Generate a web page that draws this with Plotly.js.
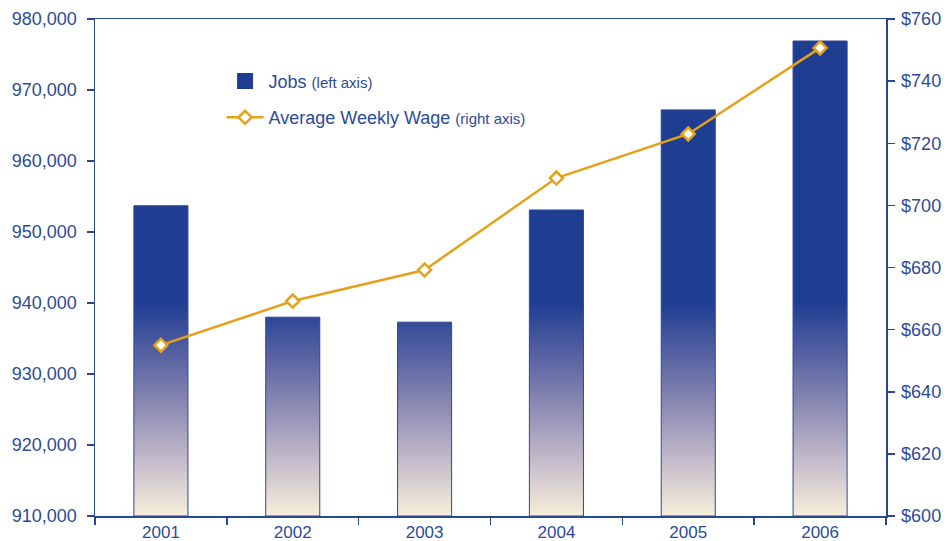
<!DOCTYPE html>
<html>
<head>
<meta charset="utf-8">
<script src="https://cdn.plot.ly/plotly-3.0.1.min.js"></script>
<style>html,body{margin:0;padding:0;background:#fff;}#chart{width:946px;height:541px;}</style>
</head>
<body>
<div id="chart"></div>
<script>
// ---- data ----
var years = ['2001', '2002', '2003', '2004', '2005', '2006'];
var jobs = [953700, 938000, 937300, 953100, 967200, 976900];
var wages = [655.0, 669.2, 679.2, 708.8, 723.0, 750.7];
var jobsTicks = [910000, 920000, 930000, 940000, 950000, 960000, 970000, 980000];
var wageTicks = [600, 620, 640, 660, 680, 700, 720, 740, 760];
var wageTickText = wageTicks.map(function (v) { return '$' + v; });

// ---- styling ----
var axisColor = '#2a4796';
var textColor = '#2d4b9c';
var barBlue = '#1f3e92';
var gold = '#e5a11a';
var font = 'Liberation Sans, Arial, sans-serif';
var jobsMin = 910000, jobsMax = 980000;
var halfW = 0.205;

var idx = years.map(function (_, i) { return i; });
var bounds = [];
for (var b = 0; b <= years.length; b++) bounds.push(b - 0.5);

// bars as filled polygons so they can carry a vertical gradient
var bx = [], by = [];
jobs.forEach(function (v, i) {
  bx.push(i - halfW, i - halfW, i + halfW, i + halfW, i - halfW, null);
  by.push(jobsMin, v, v, jobsMin, jobsMin, null);
});

var traces = [
  {
    type: 'scatter', mode: 'lines', x: bx, y: by, xaxis: 'x', yaxis: 'y',
    fill: 'toself', connectgaps: false,
    line: { color: '#2c4894', width: 1 },
    fillgradient: {
      type: 'vertical', start: jobsMin, stop: 940000,
      colorscale: [[0, '#f7eedb'], [0.25, '#c6bdcb'], [0.5, '#8f8db4'], [0.75, '#5862a2'], [1, barBlue]]
    },
    showlegend: false, hoverinfo: 'skip'
  },
  {
    type: 'scatter', mode: 'markers', x: [null], y: [null], xaxis: 'x', yaxis: 'y',
    name: 'Jobs <span style="font-size:15px">(left axis)</span>',
    marker: { symbol: 'square', size: 20, color: barBlue },
    legendgroup: 'a', showlegend: true
  },
  {
    type: 'scatter', mode: 'lines+markers', x: idx, y: wages, xaxis: 'x', yaxis: 'y2',
    name: 'Average Weekly Wage <span style="font-size:15px">(right axis)</span>',
    line: { color: gold, width: 2.5 },
    marker: { symbol: 'diamond', size: 10, color: '#ffffff', line: { color: gold, width: 2.5 } },
    legendgroup: 'b', showlegend: true
  }
];

var tickFont = { family: font, size: 18, color: textColor };

var layout = {
  width: 946, height: 541,
  margin: { l: 95, r: 60, t: 19, b: 25, pad: 0 },
  paper_bgcolor: '#ffffff', plot_bgcolor: '#ffffff',
  font: { family: font, size: 18, color: textColor },
  showlegend: true,
  legend: {
    x: 0.16, y: 0.912, xanchor: 'left', yanchor: 'top',
    bgcolor: 'rgba(0,0,0,0)', font: { family: font, size: 18, color: textColor },
    tracegroupgap: 10, traceorder: 'grouped', itemwidth: 37
  },
  xaxis: {
    range: [-0.5, years.length - 0.5], tickmode: 'array', tickvals: idx, ticktext: years,
    ticks: '', showgrid: false, zeroline: false,
    showline: true, linecolor: axisColor, linewidth: 1.5, mirror: true,
    tickfont: { family: font, size: 17, color: textColor }, ticklabelstandoff: 0,
    minor: { tickmode: 'array', tickvals: bounds, ticks: 'outside', ticklen: 7, tickwidth: 1.5, tickcolor: axisColor, showgrid: false }
  },
  xaxis2: {
    overlaying: 'x', anchor: 'y', side: 'bottom',
    range: [-0.5, years.length - 0.5], tickmode: 'array', tickvals: bounds,
    ticks: 'inside', ticklen: 7, tickwidth: 1.5, tickcolor: axisColor,
    showticklabels: false, showgrid: false, zeroline: false, showline: false
  },
  yaxis: {
    range: [jobsMin, jobsMax], tickmode: 'array', tickvals: jobsTicks,
    tickformat: ',d', ticks: 'outside', ticklen: 7, tickwidth: 1.5, tickcolor: axisColor,
    showgrid: false, zeroline: false, showline: true, linecolor: axisColor, linewidth: 1.5,
    tickfont: tickFont, ticklabelstandoff: 6
  },
  yaxis3: {
    overlaying: 'y', anchor: 'x', side: 'left',
    range: [jobsMin, jobsMax], tickmode: 'array', tickvals: jobsTicks,
    ticks: 'inside', ticklen: 7, tickwidth: 1.5, tickcolor: axisColor,
    showticklabels: false, showgrid: false, zeroline: false, showline: false
  },
  yaxis2: {
    overlaying: 'y', side: 'right', anchor: 'x',
    range: [600, 760], tickmode: 'array', tickvals: wageTicks, ticktext: wageTickText,
    ticks: 'outside', ticklen: 7, tickwidth: 1.5, tickcolor: axisColor,
    showgrid: false, zeroline: false, showline: true, linecolor: axisColor, linewidth: 1.5,
    tickfont: tickFont, ticklabelstandoff: 3
  },
  yaxis4: {
    overlaying: 'y', side: 'right', anchor: 'x',
    range: [600, 760], tickmode: 'array', tickvals: wageTicks,
    ticks: 'inside', ticklen: 7, tickwidth: 1.5, tickcolor: axisColor,
    showticklabels: false, showgrid: false, zeroline: false, showline: false
  }
};

Plotly.newPlot('chart', traces, layout, { displayModeBar: false, staticPlot: true });
</script>
</body>
</html>
